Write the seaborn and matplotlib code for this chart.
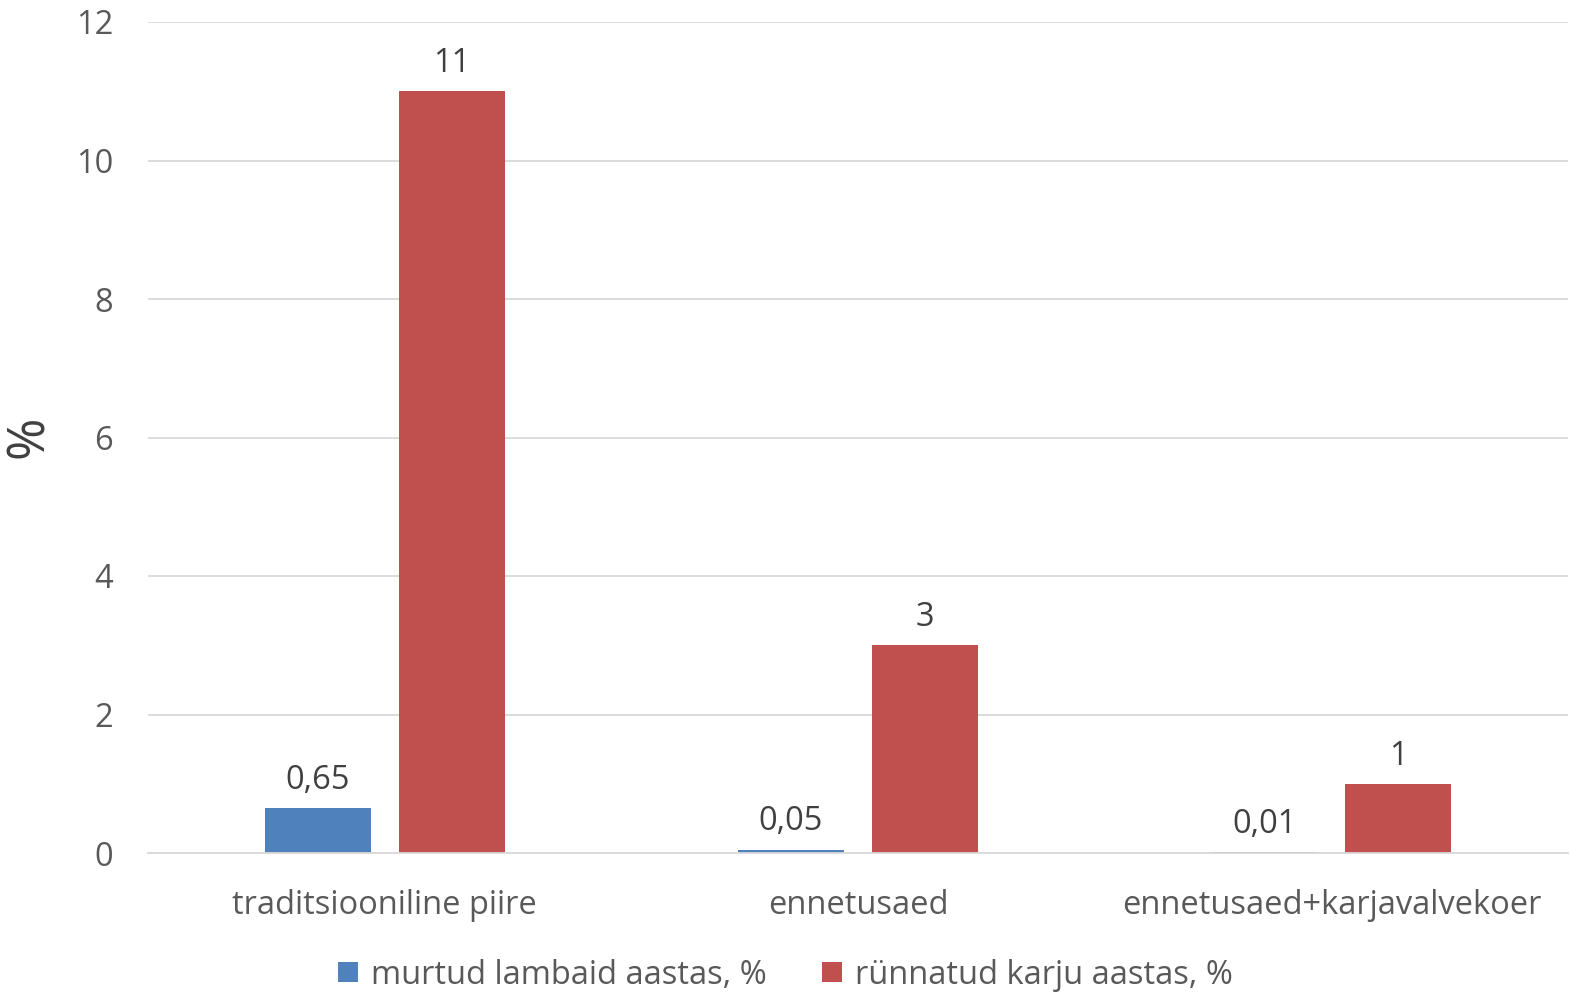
import matplotlib
matplotlib.use("Agg")
import matplotlib.pyplot as plt
import seaborn as sns
import pandas as pd

categories = ["traditsiooniline piire", "ennetusaed", "ennetusaed+karjavalvekoer"]
series_names = ["murtud lambaid aastas, %", "rünnatud karju aastas, %"]
murtud = [0.65, 0.05, 0.01]
rynnatud = [11, 3, 1]
y_ticks = [0, 2, 4, 6, 8, 10, 12]
colors = ["#4F81BD", "#C0504D"]

df = pd.DataFrame({
    "kategooria": categories * 2,
    "seeria": [series_names[0]] * 3 + [series_names[1]] * 3,
    "vaartus": murtud + rynnatud,
})

sns.set_theme(style="white")
plt.rcParams["font.family"] = ["Open Sans", "DejaVu Sans"]

FS = 23.5
fig = plt.figure(figsize=(15.71, 9.92), dpi=100)
ax = fig.add_axes([148 / 1571, 1 - 853 / 992, (1568 - 148) / 1571, (853 - 22) / 992])

sns.barplot(data=df, x="kategooria", y="vaartus", hue="seeria", palette=colors,
            width=0.567, gap=0.21, ax=ax, saturation=1, errorbar=None,
            edgecolor="none")

ax.set_xlim(-0.5, 2.5)
ax.set_ylim(0, 12)
ax.set_yticks(y_ticks)
ax.set_yticklabels([str(t) for t in y_ticks])
ax.yaxis.grid(True, color="#D9D9D9", linewidth=1.3)
ax.set_axisbelow(True)
for s in ["left", "right", "top"]:
    ax.spines[s].set_visible(False)
ax.spines["bottom"].set_color("#D9D9D9")
ax.spines["bottom"].set_linewidth(1.3)
ax.tick_params(axis="both", length=0, labelsize=FS, colors="#595959")
ax.tick_params(axis="y", pad=25)
ax.tick_params(axis="x", pad=26)
ax.set_xlabel("")
ax.set_ylabel("")
fig.text(30 / 1571, 1 - 437 / 992, "%", rotation=90, fontsize=37, color="#404040",
         ha="center", va="center")

for cont in ax.containers:
    ax.bar_label(cont, labels=[f"{v:g}".replace(".", ",") for v in cont.datavalues],
                 padding=8, fontsize=FS, color="#404040")

leg = ax.legend(loc="center", bbox_to_anchor=(0.5, 1 - 975 / 992), bbox_transform=fig.transFigure,
                ncol=2, frameon=False, fontsize=FS, handlelength=0.6, handleheight=0.6,
                handletextpad=0.4, columnspacing=1.7, borderaxespad=0, borderpad=0)
for t in leg.get_texts():
    t.set_color("#595959")

fig.savefig("out.png", dpi=100)
